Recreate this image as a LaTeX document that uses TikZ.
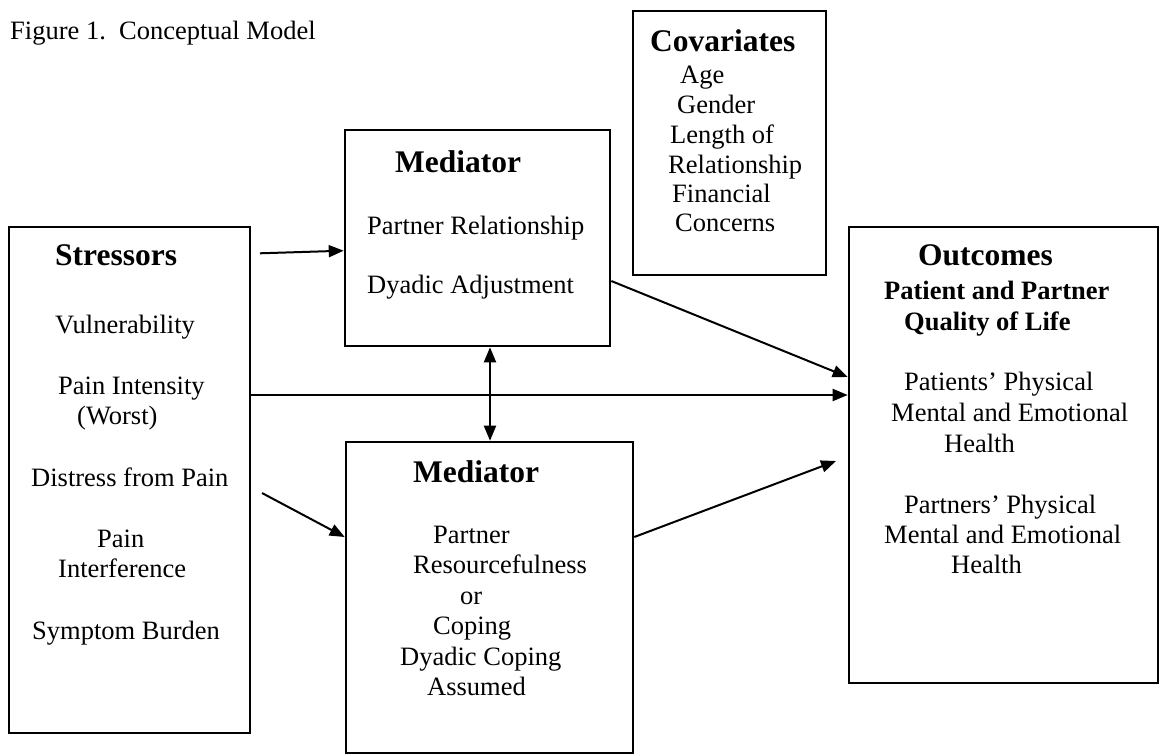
\documentclass[tikz,border=0pt]{standalone}
\usepackage{fontspec}
\setmainfont{Liberation Serif}
\usetikzlibrary{arrows.meta,calc}
\tikzset{
  box/.style={draw, line width=2.6pt, inner sep=0pt, minimum width=#1},
  txt/.style={anchor=base west, inner sep=0pt, font=\fontsize{26.5}{30}\selectfont},
  hd/.style={anchor=base west, inner sep=0pt, font=\fontsize{31.5}{36}\selectfont\bfseries},
  sb/.style={anchor=base west, inner sep=0pt, font=\fontsize{26.5}{30}\selectfont\bfseries},
  arr/.style={line width=2pt, -{Triangle[length=15pt,width=12pt]}},
  darr/.style={line width=2pt, {Triangle[length=15pt,width=12pt]}-{Triangle[length=15pt,width=12pt]}}
}
\begin{document}
\begin{tikzpicture}[x=1pt,y=-1pt]
\useasboundingbox (0,0) rectangle (1160,755);
% boxes
\node[box=241pt, minimum height=506pt] (str) at (129.5,480) {};
\node[box=265pt, minimum height=216pt] (med1) at (477.5,238) {};
\node[box=287pt, minimum height=311pt] (med2) at (489.5,597.5) {};
\node[box=193pt, minimum height=264pt] (cov) at (729.5,143) {};
\node[box=309pt, minimum height=456pt] (out) at (1003.5,455) {};
% title
\node[txt] (title) at (10,39) {Figure 1.\ \ Conceptual Model};
% covariates
\node[hd] (c0) at (650,51) {Covariates};
\node[txt] (c1) at (680,83) {Age};
\node[txt] (c2) at (677,113) {Gender};
\node[txt] (c3) at (670,143) {Length of};
\node[txt] (c4) at (668,173) {Relationship};
\node[txt] (c5) at (672,202) {Financial};
\node[txt] (c6) at (675,231) {Concerns};
% mediator 1
\node[hd] (m0) at (395,172) {Mediator};
\node[txt] (m1) at (367,234) {Partner Relationship};
\node[txt] (m2) at (367,293) {Dyadic Adjustment};
% stressors
\node[hd] (s0) at (55,265) {Stressors};
\node[txt] (s1) at (55,333) {Vulnerability};
\node[txt] (s2) at (58,394) {Pain Intensity};
\node[txt] (s3) at (77,424.5) {(Worst)};
\node[txt] (s4) at (31,486) {Distress from Pain};
\node[txt] (s5) at (97,547) {Pain};
\node[txt] (s6) at (58,577.5) {Interference};
\node[txt] (s7) at (32,639) {Symptom Burden};
% mediator 2
\node[hd] (n0) at (413,482) {Mediator};
\node[txt] (n1) at (433,543) {Partner};
\node[txt] (n2) at (413,573.5) {Resourcefulness};
\node[txt] (n3) at (460,604) {or};
\node[txt] (n4) at (433,634.5) {Coping};
\node[txt] (n5) at (400,665) {Dyadic Coping};
\node[txt] (n6) at (427,695.5) {Assumed};
% outcomes
\node[hd] (o0) at (918,265) {Outcomes};
\node[sb] (o1) at (884,299) {Patient and Partner};
\node[sb] (o2) at (904,330) {Quality of Life};
\node[txt] (o3) at (904,390) {Patients’ Physical};
\node[txt] (o4) at (891,421) {Mental and Emotional};
\node[txt] (o5) at (944,452) {Health};
\node[txt] (o6) at (904,513) {Partners’ Physical};
\node[txt] (o7) at (884,543) {Mental and Emotional};
\node[txt] (o8) at (951,573) {Health};
% connectors
\coordinate (a1) at (260,253.3);
\coordinate (hy) at (0,395);
\coordinate (a3) at (262,493);
\coordinate (vx) at (490,0);
\coordinate (e6) at (836,461);
\draw[arr] (a1) -- ([yshift=-12.7pt]med1.west);
\draw[arr] (str.east |- hy) -- (out.west |- hy);
\draw[arr] (a3) -- ([yshift=60.5pt]med2.west);
\draw[darr] (med1.south -| vx) -- (med2.north -| vx);
\draw[arr] ([yshift=-43pt]med1.east) -- ([yshift=78pt]out.west);
\draw[arr] ([yshift=60.5pt]med2.east) -- (e6);
\end{tikzpicture}
\end{document}
